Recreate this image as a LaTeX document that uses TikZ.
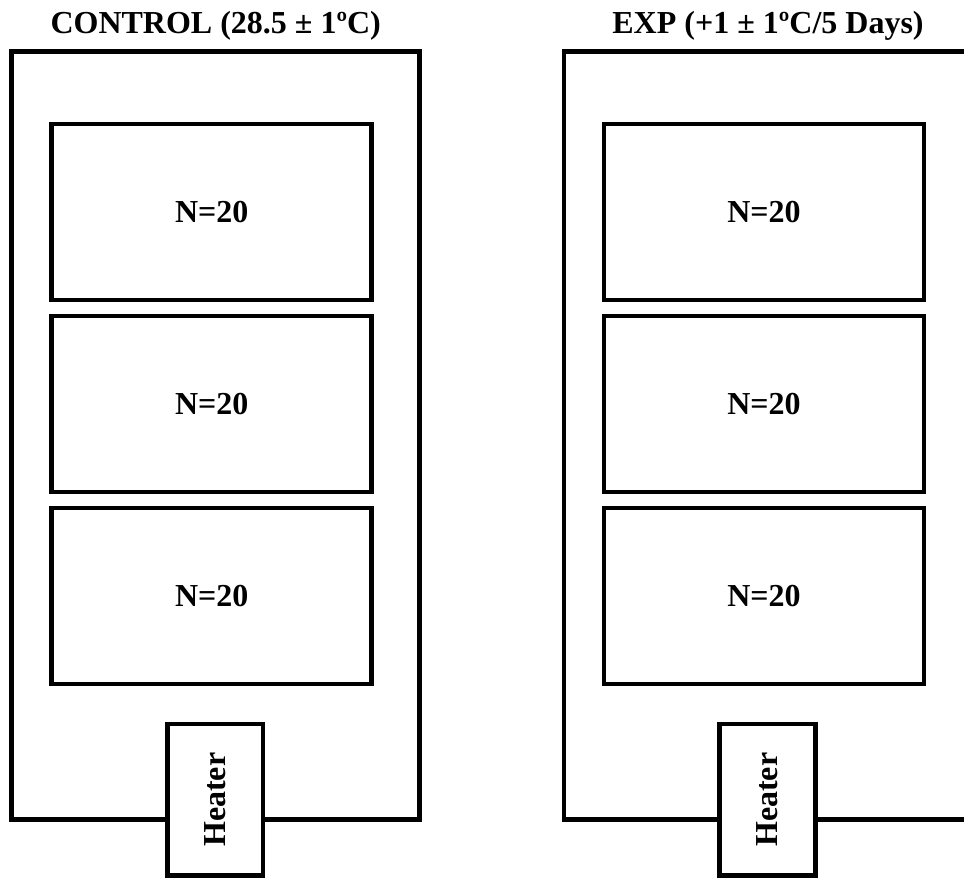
\documentclass[tikz,border=0pt]{standalone}
\usepackage{fontspec}
\setmainfont{Liberation Serif}
\begin{document}
\begin{tikzpicture}[x=1pt,y=-1pt,
  box/.style={draw=black,line width=4.7pt,rectangle,inner sep=0pt,outer sep=0pt},
  tank/.style={box,minimum width=408pt,minimum height=768pt},
  cage/.style={box,minimum width=320pt,minimum height=176pt,font=\fontsize{32}{38}\selectfont\bfseries},
  heat/.style={box,fill=white,minimum width=95.7pt,minimum height=151.7pt},
  ttl/.style={anchor=base,inner sep=0pt,font=\fontsize{32}{38}\selectfont\bfseries},
  hlab/.style={rotate=90,inner sep=0pt,font=\fontsize{32}{38}\selectfont\bfseries}]
\useasboundingbox (0,0) rectangle (964,878);
\clip (0,0) rectangle (964,878);
% left
\node[ttl] (t1) at (215.7,33) {CONTROL (28.5 ± 1ºC)};
\node[tank] (o1) at (215.7,435.7) {};
\node[cage] (a1) at (211.7,212) {N=20};
\node[cage] (b1) at (211.7,404) {N=20};
\node[cage] (c1) at (211.7,596) {N=20};
\node[heat] (h1) at (215.2,799.8) {};
\node[hlab] (hl1) at (h1.center) {Heater};
% right
\node[ttl] (t2) at (768,33) {EXP (+1 ± 1ºC/5 Days)};
\node[tank] (o2) at (768,435.7) {};
\node[cage] (a2) at (764,212) {N=20};
\node[cage] (b2) at (764,404) {N=20};
\node[cage] (c2) at (764,596) {N=20};
\node[heat] (h2) at (767.5,799.8) {};
\node[hlab] (hl2) at (h2.center) {Heater};
\end{tikzpicture}
\end{document}
